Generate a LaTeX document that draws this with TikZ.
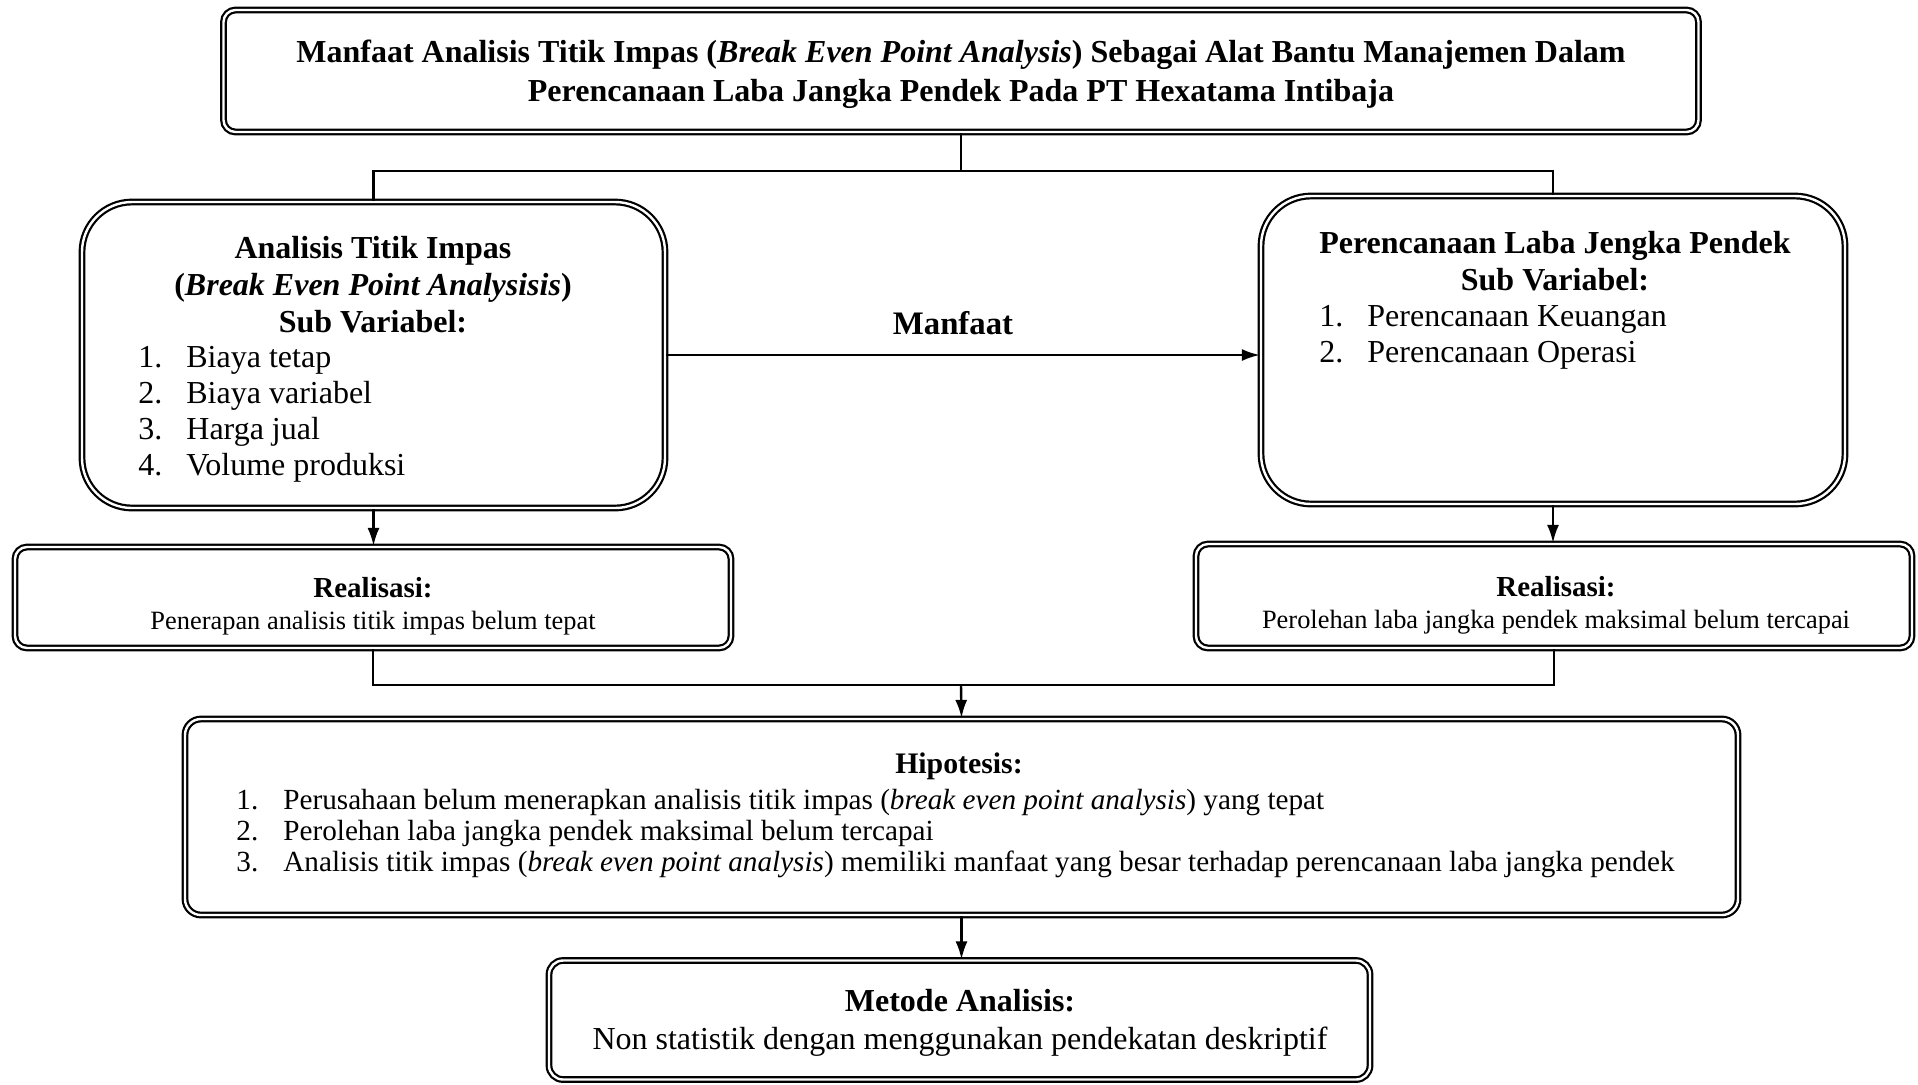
\documentclass[tikz,border=0pt]{standalone}
\usepackage{fontspec}
\setmainfont{Liberation Serif}
\usetikzlibrary{arrows.meta}
\tikzset{
  box/.style={draw, line width=1.1pt, double=white, double distance=1.2pt, rounded corners=#1, inner sep=0pt, align=center},
  conn/.style={line width=1.2pt},
  arr/.style={line width=1.2pt, -{Latex[length=9pt,width=6pt]}},
  txt/.style={inner sep=0pt, align=left},
}
\newcommand{\nm}[1]{\makebox[24pt][l]{#1}}
\newcommand{\nh}[1]{\makebox[23.5pt][l]{#1}}
\begin{document}
\begin{tikzpicture}[x=0.5pt,y=-0.5pt]
\useasboundingbox (0,0) rectangle (1918,1084);

% boxes
\node[box=6pt, minimum width=737.5pt, minimum height=61pt] (title) at (961,71) {};
\node[txt, align=center, font=\bfseries\fontsize{16}{19.5}\selectfont] (ttext) at (961,74)
  {Manfaat Analisis Titik Impas (\textit{Break Even Point Analysis}) Sebagai Alat Bantu Manajemen Dalam\\
   Perencanaan Laba Jangka Pendek Pada PT Hexatama Intibaja};

\node[box=25pt, minimum width=291.5pt, minimum height=153pt] (left) at (373.5,355) {};
\node[box=25pt, minimum width=292pt, minimum height=154pt] (right) at (1553,350) {};

\node[box=6pt, minimum width=358pt, minimum height=50.5pt] (realL) at (373,597.5) {};
\node[txt, align=center, font=\fontsize{13.2}{16}\selectfont] (realLt) at (373,606)
  {{\bfseries\fontsize{14.5}{16}\selectfont Realisasi:}\\
   Penerapan analisis titik impas belum tepat};
\node[box=6pt, minimum width=358pt, minimum height=52pt] (realR) at (1554,596) {};
\node[txt, align=center, font=\fontsize{13.2}{16}\selectfont] (realRt) at (1556,605)
  {{\bfseries\fontsize{14.5}{16}\selectfont Realisasi:}\\
   Perolehan laba jangka pendek maksimal belum tercapai};

\node[box=8pt, minimum width=776.5pt, minimum height=98pt] (hip) at (961.5,817) {};

\node[box=7pt, minimum width=410.5pt, minimum height=59.5pt] (met) at (959.5,1020) {};
\node[txt, align=center, font=\fontsize{16}{19}\selectfont] (mett) at (960,1023)
  {\textbf{Metode Analisis:}\\
   Non statistik dengan menggunakan pendekatan deskriptif};

% texts inside the big boxes
\node[txt, align=center, font=\bfseries\fontsize{16}{18.5}\selectfont] (lhead) at (373,285)
  {Analisis Titik Impas\\(\textit{Break Even Point Analysisis})\\Sub Variabel:};
\node[txt, anchor=base west, font=\fontsize{16}{18}\selectfont] (llist) at (138,475.5)
  {\nm{1.}Biaya tetap\\\nm{2.}Biaya variabel\\\nm{3.}Harga jual\\\nm{4.}Volume produksi};

\node[txt, align=center, font=\bfseries\fontsize{16}{18.5}\selectfont] (rhead) at (1555,261.5)
  {Perencanaan Laba Jengka Pendek\\Sub Variabel:};
\node[txt, anchor=base west, font=\fontsize{16}{18}\selectfont] (rlist) at (1319,362)
  {\nm{1.}Perencanaan Keuangan\\\nm{2.}Perencanaan Operasi};

\node[txt, font=\bfseries\fontsize{14.9}{16}\selectfont] (hhead) at (959,766) {Hipotesis:};
\node[txt, anchor=base west, font=\fontsize{14.6}{15.6}\selectfont] (hlist) at (236,871.5)
  {\nh{1.}Perusahaan belum menerapkan analisis titik impas (\textit{break even point analysis}) yang tepat\\
   \nh{2.}Perolehan laba jangka pendek maksimal belum tercapai\\
   \nh{3.}Analisis titik impas (\textit{break even point analysis}) memiliki manfaat yang besar terhadap perencanaan laba jangka pendek};

\node[txt, font=\bfseries\fontsize{16.4}{18}\selectfont] (manfaat) at (953,323) {Manfaat};

% connectors
\coordinate (j1) at (961,171);
\coordinate (j2) at (961,685);
\draw[conn] (title.south) -- (j1);
\draw[conn] (left.north) -- (left.north |- j1) -- (right.north |- j1) -- (right.north);
\draw[arr] (left.east) -- (left.east -| right.west);
\draw[arr] (left.south) -- (left.south |- realL.north);
\draw[arr] (right.south) -- (right.south |- realR.north);
\draw[conn] (realL.south) -- (realL.south |- j2) -- (realR.south |- j2) -- (realR.south);
\draw[arr] (j2) -- (hip.north);
\draw[arr] (hip.south) -- (hip.south |- met.north);
\end{tikzpicture}
\end{document}
